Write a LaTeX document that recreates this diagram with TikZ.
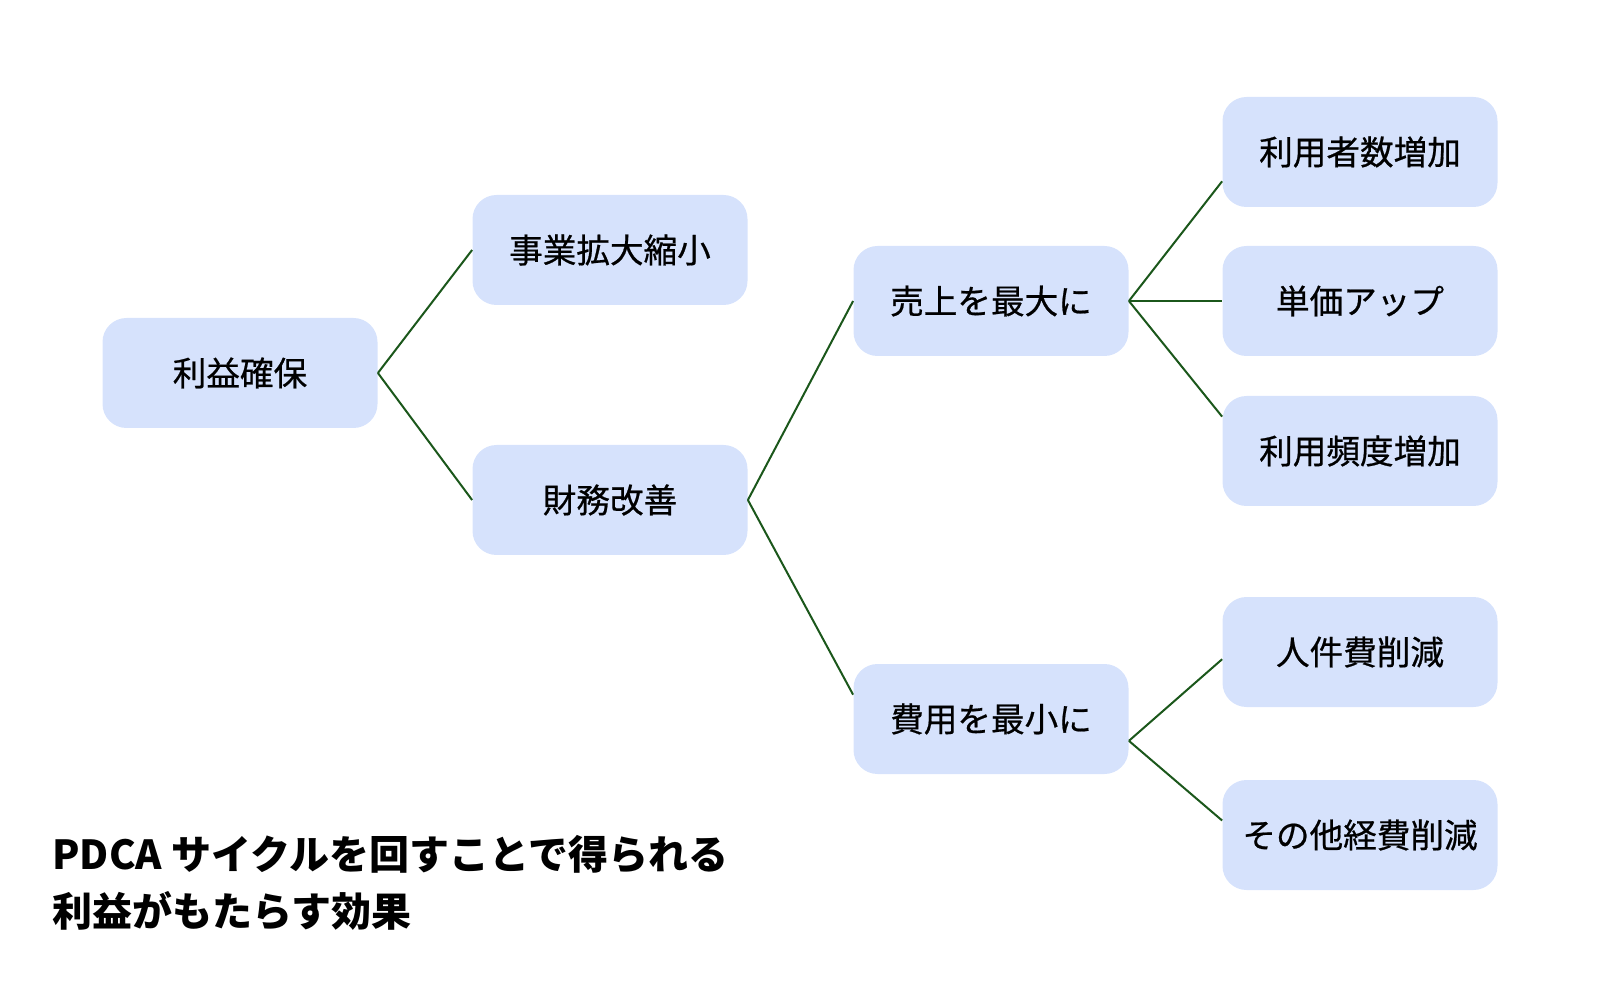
\documentclass[tikz,border=0pt]{standalone}
\usepackage{fontspec}
\setmainfont{Noto Sans CJK JP}
\newfontfamily\kastenfont[FakeBold=0.6]{Noto Sans CJK JP}
\definecolor{boxblue}{HTML}{D6E2FC}
\definecolor{linkgreen}{HTML}{1B571B}

\begin{document}
\begin{tikzpicture}[x=0.5pt,y=-0.5pt,
		box/.style={fill=boxblue,rounded corners=12pt,minimum width=137.5pt,minimum height=55pt,inner sep=0pt,font=\kastenfont\fontsize{16.8pt}{20pt}\selectfont},
		link/.style={draw=linkgreen,line width=1pt},
		titel/.style={anchor=west,inner sep=0pt,font=\fontsize{20pt}{24pt}\selectfont\bfseries}]
		\useasboundingbox (0,0) rectangle (1600,988);
		%%%% Kaesten
		\foreach \n/\x/\y/\t in {r/240/373/利益確保, e/610/250/事業拡大縮小, f/610/500/財務改善,
			s/991/301/売上を最大に, h/991/719/費用を最小に,
			u1/1360/152/利用者数増加, u2/1360/301/単価アップ, u3/1360/451/利用頻度増加,
			k1/1360/652/人件費削減, k2/1360/835/その他経費削減} {
			\node[box] (\n) at (\x,\y) {\t};
		}
		%%%% Verbindungen
		\foreach \a/\b in {r.east/e.west, r.east/f.west, f.east/s.west, f.east/h.170,
			s.east/u1.192, s.east/u2.west, s.east/u3.166, h.351/k1.183, h.351/k2.174} {
			\draw[link] (\a) -- (\b);
		}
		%%%% Titel
		\node[titel] (t1) at (52,854) {PDCA サイクルを回すことで得られる};
		\node[titel] (t2) at (52,911) {利益がもたらす効果};
\end{tikzpicture}
\end{document}
